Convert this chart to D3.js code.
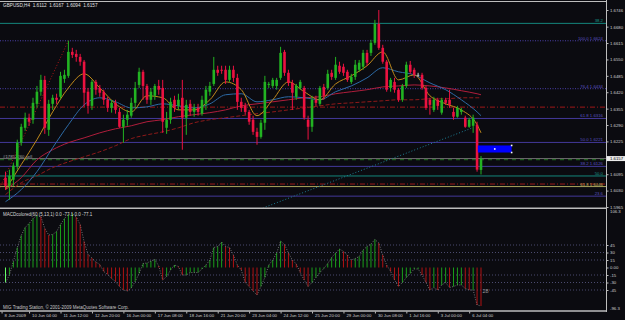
<!DOCTYPE html>
<html>
<head>
<meta charset="utf-8">
<script src="https://cdn.jsdelivr.net/npm/d3@7"></script>
<style>
  html, body { margin: 0; padding: 0; background: #0b0b10; }
  svg { display: block; }
  text { font-family: "Liberation Sans", Arial, sans-serif; }
</style>
</head>
<body>
<svg id="chart" width="625" height="320"></svg>
<script>
// GBPUSD H4 candles, bar 0 .. bar 121
var openP = [1.6081,1.6049,1.6073,1.6125,1.6220,1.6279,1.6319,1.6311,1.6374,1.6422,
  1.6469,1.6271,1.6374,1.6398,1.6402,1.6473,1.6485,1.6580,1.6572,1.6560,
  1.6541,1.6422,1.6366,1.6461,1.6437,1.6422,1.6390,1.6358,1.6378,1.6342,
  1.6283,1.6311,1.6327,1.6378,1.6449,1.6501,1.6445,1.6390,1.6406,1.6445,
  1.6437,1.6279,1.6311,1.6390,1.6366,1.6398,1.6319,1.6374,1.6342,1.6358,
  1.6335,1.6374,1.6422,1.6453,1.6509,1.6509,1.6509,1.6469,1.6509,1.6477,
  1.6382,1.6366,1.6342,1.6311,1.6263,1.6243,1.6299,1.6449,1.6445,1.6445,
  1.6477,1.6580,1.6497,1.6457,1.6402,1.6437,1.6437,1.6311,1.6283,1.6390,
  1.6374,1.6441,1.6437,1.6497,1.6477,1.6525,1.6521,1.6501,1.6461,1.6481,
  1.6509,1.6521,1.6576,1.6576,1.6616,1.6691,1.6596,1.6541,1.6437,1.6461,
  1.6430,1.6390,1.6445,1.6529,1.6509,1.6489,1.6489,1.6437,1.6390,1.6350,
  1.6390,1.6339,1.6390,1.6390,1.6342,1.6323,1.6342,1.6319,1.6283,1.6287,
  1.6291,1.6112];
var highP = [1.6105,1.6113,1.6141,1.6232,1.6295,1.6339,1.6335,1.6398,1.6445,1.6489,
  1.6485,1.6390,1.6410,1.6414,1.6501,1.6509,1.6624,1.6596,1.6588,1.6572,
  1.6548,1.6437,1.6469,1.6469,1.6449,1.6430,1.6402,1.6390,1.6390,1.6358,
  1.6331,1.6350,1.6398,1.6461,1.6517,1.6509,1.6453,1.6437,1.6453,1.6469,
  1.6469,1.6342,1.6398,1.6406,1.6414,1.6469,1.6390,1.6390,1.6374,1.6374,
  1.6406,1.6445,1.6461,1.6560,1.6525,1.6525,1.6525,1.6525,1.6525,1.6493,
  1.6398,1.6378,1.6350,1.6327,1.6279,1.6311,1.6485,1.6461,1.6477,1.6477,
  1.6600,1.6588,1.6509,1.6469,1.6453,1.6469,1.6445,1.6327,1.6406,1.6406,
  1.6445,1.6453,1.6509,1.6509,1.6560,1.6541,1.6533,1.6509,1.6493,1.6548,
  1.6548,1.6588,1.6588,1.6628,1.6707,1.6746,1.6608,1.6548,1.6477,1.6477,
  1.6437,1.6453,1.6541,1.6544,1.6517,1.6497,1.6497,1.6445,1.6398,1.6402,
  1.6398,1.6398,1.6398,1.6430,1.6358,1.6366,1.6358,1.6327,1.6319,1.6331,
  1.6303,1.6167];
var lowP = [1.6034,1.5994,1.6049,1.6113,1.6208,1.6267,1.6287,1.6295,1.6358,1.6406,
  1.6255,1.6247,1.6350,1.6374,1.6394,1.6457,1.6477,1.6556,1.6541,1.6525,
  1.6362,1.6335,1.6350,1.6410,1.6402,1.6370,1.6342,1.6339,1.6335,1.6279,
  1.6220,1.6287,1.6319,1.6358,1.6437,1.6390,1.6374,1.6370,1.6390,1.6410,
  1.6259,1.6255,1.6295,1.6342,1.6350,1.6192,1.6251,1.6327,1.6323,1.6327,
  1.6327,1.6350,1.6406,1.6445,1.6485,1.6493,1.6453,1.6461,1.6461,1.6350,
  1.6342,1.6331,1.6291,1.6251,1.6212,1.6236,1.6271,1.6437,1.6437,1.6430,
  1.6469,1.6485,1.6445,1.6350,1.6390,1.6430,1.6311,1.6232,1.6263,1.6366,
  1.6366,1.6390,1.6430,1.6469,1.6469,1.6493,1.6485,1.6461,1.6453,1.6469,
  1.6501,1.6509,1.6525,1.6564,1.6608,1.6588,1.6533,1.6422,1.6422,1.6418,
  1.6382,1.6382,1.6437,1.6493,1.6477,1.6481,1.6430,1.6350,1.6331,1.6342,
  1.6350,1.6331,1.6370,1.6358,1.6311,1.6319,1.6331,1.6279,1.6279,1.6259,
  1.6105,1.6094];
var closeP = [1.6049,1.6089,1.6129,1.6220,1.6283,1.6319,1.6303,1.6378,1.6422,1.6469,
  1.6279,1.6374,1.6398,1.6390,1.6485,1.6489,1.6580,1.6568,1.6560,1.6541,
  1.6418,1.6366,1.6461,1.6430,1.6418,1.6390,1.6358,1.6378,1.6350,1.6283,
  1.6311,1.6331,1.6378,1.6437,1.6501,1.6445,1.6390,1.6422,1.6445,1.6430,
  1.6303,1.6311,1.6382,1.6358,1.6390,1.6319,1.6370,1.6342,1.6358,1.6342,
  1.6390,1.6430,1.6445,1.6509,1.6497,1.6505,1.6469,1.6509,1.6477,1.6382,
  1.6358,1.6342,1.6303,1.6263,1.6243,1.6299,1.6461,1.6453,1.6469,1.6469,
  1.6576,1.6497,1.6457,1.6418,1.6445,1.6461,1.6319,1.6283,1.6390,1.6378,
  1.6437,1.6406,1.6493,1.6481,1.6529,1.6501,1.6497,1.6469,1.6481,1.6529,
  1.6537,1.6576,1.6537,1.6616,1.6691,1.6596,1.6541,1.6430,1.6469,1.6430,
  1.6390,1.6445,1.6529,1.6501,1.6489,1.6489,1.6437,1.6358,1.6370,1.6390,
  1.6366,1.6390,1.6378,1.6370,1.6323,1.6358,1.6350,1.6283,1.6311,1.6319,
  1.6113,1.6157];

// moving averages read every 4 bars
var maBars = [0,4,8,12,16,20,24,28,32,36,40,44,48,52,56,60,64,68,72,76,80,84,88,92,96,100,104,108,112,116,120,121];
var maFast = [1.6034,1.6133,1.6232,1.6342,1.6437,1.6493,1.6437,1.6374,1.6342,1.6406,1.6398,1.6350,1.6350,1.6390,1.6461,1.6430,1.6327,1.6390,1.6461,1.6422,1.6390,1.6453,1.6485,1.6525,1.6580,1.6469,1.6489,1.6406,1.6374,1.6350,1.6291,1.6259];
var maMid = [1.5986,1.6034,1.6105,1.6200,1.6291,1.6370,1.6398,1.6382,1.6358,1.6362,1.6374,1.6366,1.6358,1.6374,1.6410,1.6414,1.6382,1.6390,1.6402,1.6398,1.6390,1.6422,1.6445,1.6477,1.6517,1.6501,1.6489,1.6457,1.6430,1.6390,1.6342,1.6327];
var maSlow = [1.6034,1.6081,1.6152,1.6192,1.6220,1.6239,1.6259,1.6275,1.6287,1.6303,1.6311,1.6323,1.6331,1.6339,1.6350,1.6366,1.6374,1.6382,1.6390,1.6398,1.6402,1.6414,1.6422,1.6430,1.6441,1.6445,1.6449,1.6445,1.6437,1.6426,1.6414,1.6410];
var maLong = [1.6014,1.6061,1.6089,1.6121,1.6144,1.6164,1.6184,1.6208,1.6236,1.6251,1.6263,1.6279,1.6299,1.6311,1.6319,1.6327,1.6335,1.6342,1.6350,1.6358,1.6366,1.6374,1.6378,1.6382,1.6386,1.6390,1.6390,1.6394,1.6394,1.6398,1.6398,1.6398];

// MACD histogram, one value per bar
var macd = [-30,-15,12,40,64,80,88,98,104,102,
  78,65,66,72,86,98,106,108,101,86,
  52,26,19,11,6,-8,-14,-22,-28,-38,
  -45,-47,-41,-28,-12,8,9,13,16,3,
  -25,-18,-5,5,2,-15,-15,-10,-10,-10,
  -3,5,15,40,42,51,42,40,25,5,
  -5,-30,-38,-47,-55,-38,-20,5,15,29,
  53,46,29,15,7,-10,-25,-38,-30,-20,
  -10,-2,8,20,29,37,32,25,15,18,
  22,35,42,47,56,49,25,5,-8,-25,
  -38,-30,-20,-12,-3,-3,-15,-30,-45,-40,
  -45,-35,-30,-40,-38,-35,-35,-42,-45,-45,
  -75,-77];
var macdLevels = [45,30,15,-15,-30,-45];
var macdTicks = [45,30,15,0,-15,-30,-45];

// horizontal objects
var levelPrices = [1.6693,1.6624,1.6434,1.6361,1.6316,1.6221,1.6126,1.6088,1.6056,1.6046,1.6008];
var levelLabels = ["38.2","100.0  1.6624","76.4  1.6434","","61.8  1.6316","50.0  1.6221","38.2  1.6126","50.0","","61.8  1.6046","23.6"];
var levelKind = ["teal","fibdot","fibdot","reddash","fib","fib","fib","teal","reddash","yellow","fib"];

var fibRedBars = [-1.5,16], fibRedPrices = [1.6040,1.6624];
var fibTealBars = [65.5,118.7], fibTealPrices = [1.5961,1.6278];
var rectBars = [120.2,128.8], rectPrices = [1.6209,1.6181];
var bidPrice = 1.6157, orderPrice = 1.6153;

var priceTicks = [1.6746,1.6680,1.6615,1.6550,1.6485,1.6420,1.6355,1.6290,1.6225,1.6095,1.6030,1.5965];
var dateBars = [-1,6,14,22,30,38,46,54,62,70,78,86,94,102,110,118];
var dateLabels = ["8 Jun 2009","10 Jun 04:00","11 Jun 12:00","12 Jun 20:00","16 Jun 00:00","17 Jun 08:00","18 Jun 16:00","21 Jun 20:00","23 Jun 04:00","24 Jun 12:00","25 Jun 20:00","29 Jun 00:00","30 Jun 08:00","1 Jul 16:00","3 Jul 00:00","6 Jul 04:00"];

var svg = d3.select("#chart");
var W = 625, H = 320, axisX = 606.5;
var kindColor = {teal:"#14877c", fibdot:"#4a3fa8", fib:"#43399a", reddash:"#a01818", yellow:"#a9a55c"};
var kindDash = {teal:null, fibdot:"1,1.5", fib:null, reddash:"5,2,1,2", yellow:null};
var labelColor = {teal:"#1a9a8c", fibdot:"#5a52c0", fib:"#5a52c0", reddash:"#a01818", yellow:"#c0bc60"};

svg.append("rect").attr("width", W).attr("height", H).attr("fill", "#0b0b10");

var x = d3.scaleLinear().domain([0, 121]).range([5.5, 481]);
var y = d3.scaleLinear().domain([1.5965, 1.6746]).range([207, 10]);
var ym = d3.scaleLinear().domain([-45, 45]).range([290, 245]);

var defs = svg.append("defs");
defs.append("clipPath").attr("id", "cm").append("rect").attr("x", 0).attr("y", 2).attr("width", axisX).attr("height", 205.5);
defs.append("clipPath").attr("id", "cd").append("rect").attr("x", 0).attr("y", 209.5).attr("width", axisX).attr("height", 100.5);

var main = svg.append("g").attr("clip-path", "url(#cm)");
var pane = svg.append("g").attr("clip-path", "url(#cd)");

// horizontal levels
levelPrices.forEach(function(p, i) {
  var k = levelKind[i];
  main.append("line").attr("x1", 0).attr("x2", axisX).attr("y1", y(p)).attr("y2", y(p))
    .attr("stroke", kindColor[k]).attr("stroke-width", 1)
    .attr("stroke-dasharray", kindDash[k]);
  if (levelLabels[i]) {
    main.append("text").attr("x", 603).attr("y", y(p) - 1).attr("text-anchor", "end")
      .attr("font-size", 4.3).attr("fill", labelColor[k]).text(levelLabels[i]);
  }
});

// bid + order line
main.append("line").attr("x1", 0).attr("x2", axisX).attr("y1", y(bidPrice)).attr("y2", y(bidPrice))
  .attr("stroke", "#6e6e6e").attr("stroke-width", 1);
main.append("line").attr("x1", 0).attr("x2", axisX).attr("y1", y(orderPrice)).attr("y2", y(orderPrice))
  .attr("stroke", "#1d5f1d").attr("stroke-width", 1.2).attr("stroke-dasharray", "4,4");
main.append("text").attr("x", 3).attr("y", y(bidPrice) - 1).attr("font-size", 4.3)
  .attr("fill", "#a8a8a8").text("#17852260 sell");

// fibo anchor lines
var seg = d3.line().x(function(d) { return x(d[0]); }).y(function(d) { return y(d[1]); });
main.append("path").attr("d", seg(d3.zip(fibRedBars, fibRedPrices))).attr("fill", "none")
  .attr("stroke", "#b01818").attr("stroke-width", 1).attr("stroke-dasharray", "1,2");
main.append("path").attr("d", seg(d3.zip(fibTealBars, fibTealPrices))).attr("fill", "none")
  .attr("stroke", "#1f7f95").attr("stroke-width", 1).attr("stroke-dasharray", "1,2");

// moving averages
var maLine = d3.line().x(function(d) { return x(d[0]); }).y(function(d) { return y(d[1]); }).curve(d3.curveMonotoneX);
[[maLong, "#8e1a1a", "4,2"], [maSlow, "#b01e3c", null], [maMid, "#2d6aa5", null], [maFast, "#c08a1c", null]].forEach(function(m) {
  main.append("path").attr("d", maLine(d3.zip(maBars, m[0]))).attr("fill", "none")
    .attr("stroke", m[1]).attr("stroke-width", 1).attr("stroke-dasharray", m[2]);
});

// candles
var bars = d3.range(openP.length);
function candleColor(i) {
  if (closeP[i] > openP[i]) return "#22b322";
  if (closeP[i] < openP[i]) return "#ec1240";
  return "#c8c8c8";
}
main.selectAll("line.wick").data(bars).enter().append("line").attr("class", "wick")
  .attr("x1", function(i) { return x(i); }).attr("x2", function(i) { return x(i); })
  .attr("y1", function(i) { return y(highP[i]); }).attr("y2", function(i) { return y(lowP[i]); })
  .attr("stroke", candleColor).attr("stroke-width", 1);
main.selectAll("rect.body").data(bars).enter().append("rect").attr("class", "body")
  .attr("x", function(i) { return x(i) - 1.3; }).attr("width", 2.6)
  .attr("y", function(i) { return y(Math.max(openP[i], closeP[i])); })
  .attr("height", function(i) { return Math.max(0.8, Math.abs(y(openP[i]) - y(closeP[i]))); })
  .attr("fill", candleColor);

// blue rectangle object
main.append("rect").attr("x", x(rectBars[0])).attr("width", x(rectBars[1]) - x(rectBars[0]))
  .attr("y", y(rectPrices[0])).attr("height", y(rectPrices[1]) - y(rectPrices[0]))
  .attr("fill", "#0000ff");
[[rectBars[1], rectPrices[0]], [rectBars[1], rectPrices[1]], [(rectBars[0] + rectBars[1]) / 2, (rectPrices[0] + rectPrices[1]) / 2]].forEach(function(pt) {
  main.append("rect").attr("x", x(pt[0]) - 0.8).attr("y", y(pt[1]) - 0.8).attr("width", 1.6).attr("height", 1.6).attr("fill", "#ffffff");
});

// title
svg.append("text").attr("x", 3).attr("y", 7.3).attr("font-size", 4.7).attr("fill", "#e0e0e0")
  .attr("xml:space", "preserve").text("GBPUSD,H4  1.6112  1.6167  1.6094  1.6157");

// MACD pane
macdLevels.forEach(function(v) {
  pane.append("line").attr("x1", 0).attr("x2", axisX).attr("y1", ym(v)).attr("y2", ym(v))
    .attr("stroke", "#5c5c88").attr("stroke-width", 0.8).attr("stroke-dasharray", "1,2");
});
pane.selectAll("line.hist").data(bars).enter().append("line").attr("class", "hist")
  .attr("x1", function(i) { return x(i); }).attr("x2", function(i) { return x(i); })
  .attr("y1", ym(0)).attr("y2", function(i) { return ym(macd[i]); })
  .attr("stroke", function(i) {
    if (i === 0) return "#66ff66";
    return macd[i] >= macd[i - 1] ? "#1a9e1a" : "#b01212";
  }).attr("stroke-width", 1);
pane.append("path").attr("d", d3.line().x(function(i) { return x(i); }).y(function(i) { return ym(macd[i]); })(bars))
  .attr("fill", "none").attr("stroke", "#8a8a8a").attr("stroke-width", 0.8).attr("stroke-dasharray", "1,1.5");
svg.append("text").attr("x", 3).attr("y", 215.5).attr("font-size", 4.5).attr("fill", "#d8d8d8")
  .text("MACDcolored(60 (5,13,1) 0.0 -77.1 0.0 -77.1");
svg.append("text").attr("x", x(121) + 1.5).attr("y", ym(-46) + 2).attr("font-size", 5.5).attr("fill", "#9a9a9a").text("28");
svg.append("text").attr("x", 3).attr("y", 308.5).attr("font-size", 4.5).attr("fill", "#c8c8c8")
  .text("MIG Trading Station, \u00a9 2001-2009 MetaQuotes Software Corp.");

// frames
var frame = "#bdbdbd";
svg.append("line").attr("x1", 0).attr("x2", axisX).attr("y1", 1.5).attr("y2", 1.5).attr("stroke", frame).attr("stroke-width", 1);
svg.append("line").attr("x1", 0).attr("x2", axisX).attr("y1", 208.3).attr("y2", 208.3).attr("stroke", frame).attr("stroke-width", 1.6);
svg.append("line").attr("x1", 0).attr("x2", axisX).attr("y1", 311).attr("y2", 311).attr("stroke", frame).attr("stroke-width", 1.6);

// price axis
var pa = svg.append("g").attr("transform", "translate(" + axisX + ",0)")
  .call(d3.axisRight(y).tickValues(priceTicks).tickFormat(d3.format(".4f")).tickSize(2).tickPadding(1.5));
var macdFmt = function(d) { return d === 0 ? "0.00" : String(d); };
var ma = svg.append("g").attr("transform", "translate(" + axisX + ",0)")
  .call(d3.axisRight(ym).tickValues(macdTicks).tickFormat(macdFmt).tickSize(2).tickPadding(1.5));
[pa, ma].forEach(function(g) {
  g.select(".domain").remove();
  g.selectAll("line").attr("stroke", frame);
  g.selectAll("text").attr("font-size", 4.3).attr("fill", "#d0d0d0").attr("font-family", "Liberation Sans, Arial, sans-serif");
});
svg.append("line").attr("x1", axisX).attr("x2", axisX).attr("y1", 0).attr("y2", 312).attr("stroke", frame).attr("stroke-width", 1);
svg.append("text").attr("x", axisX + 3.5).attr("y", ym(106.3) - 1).attr("font-size", 4.3).attr("fill", "#d0d0d0").text("106.3");
svg.append("text").attr("x", axisX + 3.5).attr("y", 309.5).attr("font-size", 4.3).attr("fill", "#d0d0d0").text("-96.3");

// current price box
svg.append("rect").attr("x", axisX).attr("y", y(bidPrice) - 2.5).attr("width", W - axisX).attr("height", 5)
  .attr("fill", "#ececec");
svg.append("text").attr("x", axisX + 3.5).attr("y", y(bidPrice) + 1.6).attr("font-size", 4.3).attr("fill", "#000").text("1.6157");

// time axis
var ta = svg.append("g").attr("transform", "translate(0,311.5)")
  .call(d3.axisBottom(x).tickValues(dateBars).tickFormat(function(d, i) { return dateLabels[i]; }).tickSize(2));
ta.select(".domain").remove();
ta.selectAll("line").attr("stroke", frame);
ta.selectAll("text").attr("font-size", 4.3).attr("fill", "#d0d0d0").attr("text-anchor", "start")
  .attr("dx", 2.5).attr("dy", 0).attr("y", 5.5).attr("font-family", "Liberation Sans, Arial, sans-serif");
</script>
</body>
</html>
